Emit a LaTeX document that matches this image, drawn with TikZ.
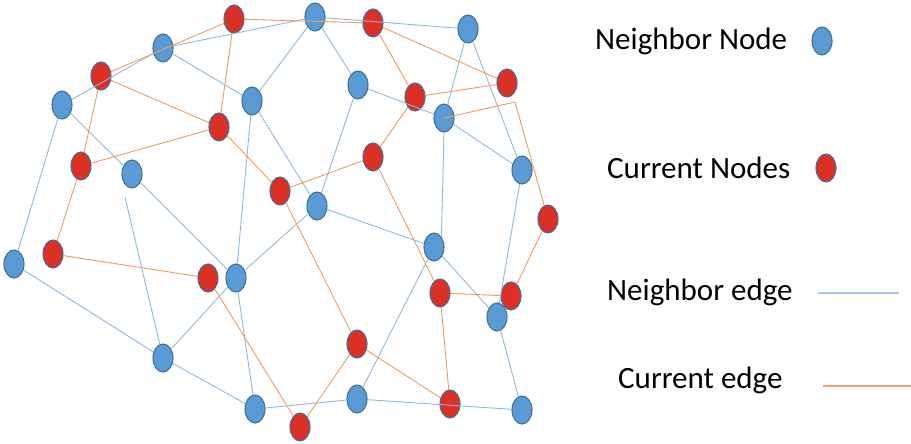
\documentclass[tikz,border=0pt]{standalone}
\usepackage{fontspec}
\setmainfont{Carlito}
\usetikzlibrary{shapes.geometric}

\definecolor{nbrfill}{HTML}{5B9BD5}
\definecolor{nodeline}{HTML}{41719C}
\definecolor{curfill}{HTML}{DD3024}
\definecolor{nbrline}{HTML}{8FB8E0}
\definecolor{curline}{HTML}{F29A5E}

\tikzset{
  vertex/.style={ellipse, draw=nodeline, line width=1.1pt, inner sep=0pt,
                 minimum width=20pt, minimum height=28pt},
  nbr/.style={vertex, fill=nbrfill},
  cur/.style={vertex, fill=curfill},
  nedge/.style={draw=nbrline, line width=0.9pt},
  cedge/.style={draw=curline, line width=0.9pt},
  legtext/.style={anchor=base west, inner sep=0pt, font=\fontsize{31}{37}\selectfont}
}

\begin{document}
\begin{tikzpicture}[x=1pt, y=-1pt]
\useasboundingbox (0,0) rectangle (911,444);

% neighbor nodes
\node[nbr] (b1)  at (163,48)  {};
\node[nbr] (b2)  at (62,105)  {};
\node[nbr] (b3)  at (252,101) {};
\node[nbr] (b4)  at (132,174) {};
\node[nbr] (b5)  at (315,17)  {};
\node[nbr] (b6)  at (358,85)  {};
\node[nbr] (b7)  at (468,29)  {};
\node[nbr] (b8)  at (444,118) {};
\node[nbr] (b9)  at (522,170) {};
\node[nbr] (b10) at (317,206) {};
\node[nbr] (b11) at (14,264)  {};
\node[nbr] (b12) at (236,278) {};
\node[nbr] (b13) at (163,358) {};
\node[nbr] (b14) at (255,409) {};
\node[nbr] (b15) at (434,247) {};
\node[nbr] (b16) at (497,317) {};
\node[nbr] (b17) at (357,399) {};
\node[nbr] (b18) at (522,410) {};

% current nodes
\node[cur] (r1)  at (234,19)  {};
\node[cur] (r2)  at (101,76)  {};
\node[cur] (r3)  at (219,127) {};
\node[cur] (r4)  at (81,166)  {};
\node[cur] (r5)  at (280,191) {};
\node[cur] (r6)  at (373,23)  {};
\node[cur] (r7)  at (415,97)  {};
\node[cur] (r8)  at (507,83)  {};
\node[cur] (r9)  at (373,157) {};
\node[cur] (r10) at (548,219) {};
\node[cur] (r11) at (53,254)  {};
\node[cur] (r12) at (208,278) {};
\node[cur] (r13) at (440,293) {};
\node[cur] (r14) at (511,296) {};
\node[cur] (r15) at (357,344) {};
\node[cur] (r16) at (450,404) {};
\node[cur] (r17) at (300,427) {};

% loose ends
\coordinate (b4tail) at (125,197);
\coordinate (r8foot) at (515,102);

% neighbor edges
\draw[nedge] (b1) -- (b5);
\draw[nedge] (b1) -- (b2);
\draw[nedge] (b1) -- (b3);
\draw[nedge] (b2) -- (b4);
\draw[nedge] (b2) -- (b11);
\draw[nedge] (b3) -- (b5);
\draw[nedge] (b3) -- (b12);
\draw[nedge] (b3) -- (b10);
\draw[nedge] (b4) -- (b12);
\draw[nedge] (b4tail) -- (b13);
\draw[nedge] (b11) -- (b13);
\draw[nedge] (b12) -- (b13);
\draw[nedge] (b12) -- (b14);
\draw[nedge] (b12) -- (b10);
\draw[nedge] (b13) -- (b14);
\draw[nedge] (b14) -- (b17);
\draw[nedge] (b17) -- (b15);
\draw[nedge] (b17) -- (b18);
\draw[nedge] (b10) -- (b15);
\draw[nedge] (b10) -- (b6);
\draw[nedge] (b6) -- (b5);
\draw[nedge] (b6) -- (b8);
\draw[nedge] (b5) -- (b7);
\draw[nedge] (b7) -- (b8);
\draw[nedge] (b7) -- (b9);
\draw[nedge] (b8) -- (b9);
\draw[nedge] (b8.south) -- (b15.north east);
\draw[nedge] (b9) -- (b16);
\draw[nedge] (b15) -- (b16);
\draw[nedge] (b16) -- (b18);

% current edges
\draw[cedge] (r1) -- (r2);
\draw[cedge] (r1) -- (r6);
\draw[cedge] (r1) -- (r3);
\draw[cedge] (r2) -- (r3);
\draw[cedge] (r2) -- (r4);
\draw[cedge] (r4) -- (r3);
\draw[cedge] (r3) -- (r5);
\draw[cedge] (r4) -- (r11);
\draw[cedge] (r11) -- (r12);
\draw[cedge] (r12) -- (r17);
\draw[cedge] (r5) -- (r9);
\draw[cedge] (r5) -- (r15);
\draw[cedge] (r9) -- (r7);
\draw[cedge] (r9) -- (r13);
\draw[cedge] (r6) -- (r7);
\draw[cedge] (r6) -- (r8);
\draw[cedge] (r7) -- (r8);
\draw[cedge] (b8.center) -- (r8foot) -- (r10);
\draw[cedge] (r10) -- (r14);
\draw[cedge] (r13) -- (r14);
\draw[cedge] (r13) -- (r16);
\draw[cedge] (r15) -- (r16);
\draw[cedge] (r15) -- (r17);

% legend
\node[legtext] (tnbr) at (595,50)  {Neighbor Node};
\node[nbr]     (lnbr) at (822,41)  {};
\node[legtext] (tcur) at (607,178) {Current Nodes};
\node[cur]     (lcur) at (826,168) {};
\node[legtext] (tne)  at (607,300) {Neighbor edge};
\coordinate (ne1) at (818,293);
\coordinate (ne2) at (899,293);
\draw[draw=nbrline!80, line width=1.6pt] (ne1) -- (ne2);
\node[legtext] (tce)  at (618,388) {Current edge};
\coordinate (ce1) at (823,386);
\coordinate (ce2) at (911,386);
\draw[draw=curline!90, line width=1.2pt] (ce1) -- (ce2);
\end{tikzpicture}
\end{document}
